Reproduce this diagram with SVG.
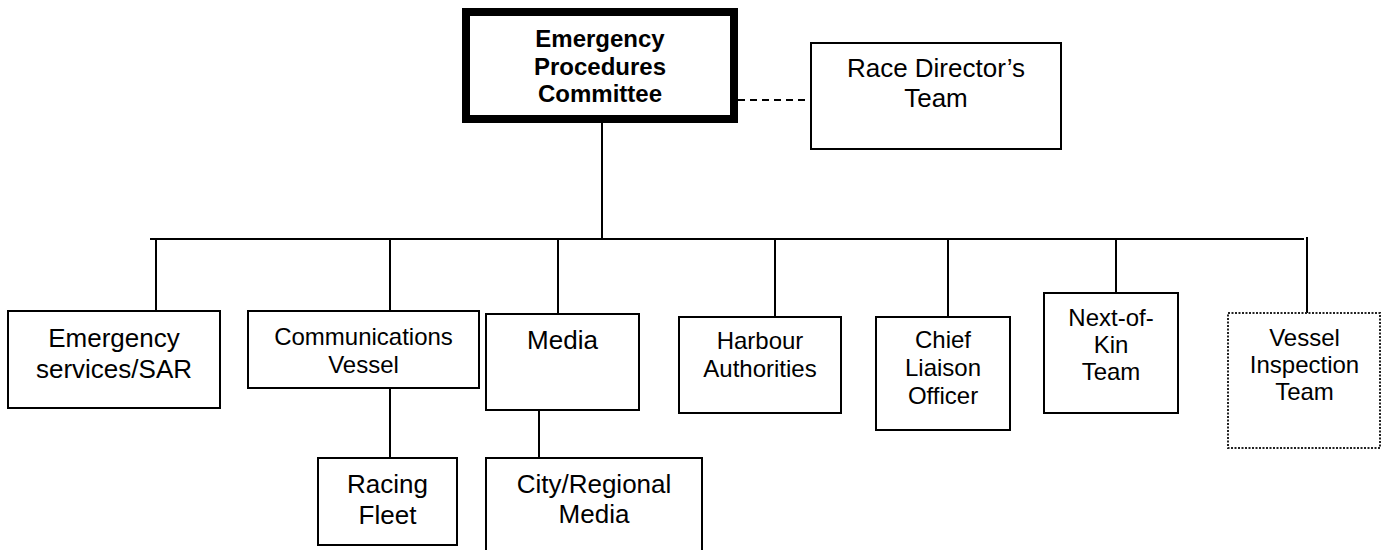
<svg xmlns="http://www.w3.org/2000/svg" width="1382" height="550" viewBox="0 0 1382 550">
<style>
.box{fill:#fff;stroke:#000;stroke-width:2}
.main{fill:#fff;stroke:#000;stroke-width:8}
.dot{fill:#fff;stroke:#222;stroke-width:2;stroke-dasharray:2 1.5}
.t{font-family:"Liberation Sans",Arial,sans-serif;font-size:26px;fill:#000;text-anchor:middle}
.s{font-size:24px}
.b{font-family:"Liberation Sans",Arial,sans-serif;font-size:24px;font-weight:bold;fill:#000;text-anchor:middle}
.c{stroke:#000;stroke-width:2;fill:none}
</style>
<rect width="1382" height="550" fill="#fff"/>
<g id="connectors">
<line class="c" x1="602" y1="123" x2="602" y2="240"/>
<line class="c" x1="738" y1="100" x2="811" y2="100" stroke-dasharray="7 5"/>
<line class="c" x1="150" y1="239" x2="1304" y2="239"/>
<line class="c" x1="156" y1="239" x2="156" y2="311"/>
<line class="c" x1="390" y1="239" x2="390" y2="311"/>
<line class="c" x1="558" y1="239" x2="558" y2="314"/>
<line class="c" x1="775" y1="239" x2="775" y2="317"/>
<line class="c" x1="948" y1="239" x2="948" y2="317"/>
<line class="c" x1="1116" y1="239" x2="1116" y2="293"/>
<line class="c" x1="1307" y1="237" x2="1307" y2="313"/>
<line class="c" x1="390" y1="388" x2="390" y2="458"/>
<line class="c" x1="539" y1="410" x2="539" y2="458"/>
</g>
<g id="epc">
<rect class="main" x="466" y="12" width="268" height="107"/>
<text class="b" x="600" y="47">Emergency</text>
<text class="b" x="600" y="74.5">Procedures</text>
<text class="b" x="600" y="102">Committee</text>
</g>
<g id="race-director">
<rect class="box" x="811" y="43" width="250" height="106"/>
<text class="t" x="936" y="77">Race Director’s</text>
<text class="t" x="936" y="107">Team</text>
</g>
<g id="emergency-services">
<rect class="box" x="8" y="311" width="212" height="97"/>
<text class="t" x="114" y="347">Emergency</text>
<text class="t" x="114" y="378">services/SAR</text>
</g>
<g id="communications">
<rect class="box" x="248" y="311" width="231" height="77"/>
<text class="t s" x="363.5" y="345">Communications</text>
<text class="t s" x="363.5" y="373">Vessel</text>
</g>
<g id="racing-fleet">
<rect class="box" x="318" y="458" width="139" height="87"/>
<text class="t" x="387.5" y="493">Racing</text>
<text class="t" x="387.5" y="524">Fleet</text>
</g>
<g id="media">
<rect class="box" x="486" y="314" width="153" height="96"/>
<text class="t" x="562.5" y="349">Media</text>
</g>
<g id="city-media">
<rect class="box" x="486" y="458" width="216" height="100"/>
<text class="t" x="594" y="493">City/Regional</text>
<text class="t" x="594" y="523">Media</text>
</g>
<g id="harbour">
<rect class="box" x="679" y="317" width="162" height="96"/>
<text class="t s" x="760" y="349">Harbour</text>
<text class="t s" x="760" y="377">Authorities</text>
</g>
<g id="chief-liaison">
<rect class="box" x="876" y="317" width="134" height="113"/>
<text class="t s" x="943" y="348">Chief</text>
<text class="t s" x="943" y="376">Liaison</text>
<text class="t s" x="943" y="404">Officer</text>
</g>
<g id="next-of-kin">
<rect class="box" x="1044" y="293" width="134" height="120"/>
<text class="t s" x="1111" y="326">Next-of-</text>
<text class="t s" x="1111" y="353">Kin</text>
<text class="t s" x="1111" y="380">Team</text>
</g>
<g id="vessel-inspection">
<rect class="dot" x="1228" y="313" width="152" height="135"/>
<text class="t s" x="1304.5" y="346">Vessel</text>
<text class="t s" x="1304.5" y="373">Inspection</text>
<text class="t s" x="1304.5" y="400">Team</text>
</g>
</svg>
